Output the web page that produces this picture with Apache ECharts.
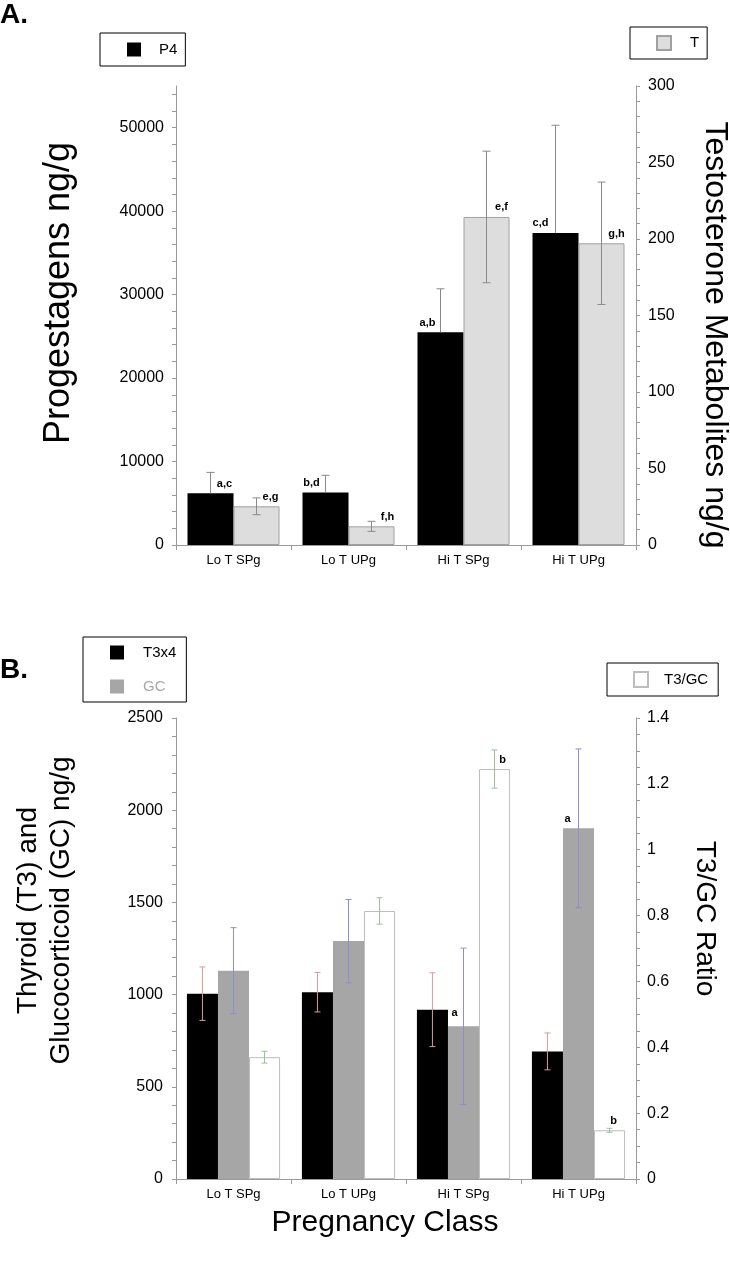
<!DOCTYPE html>
<html><head><meta charset="utf-8">
<script src="https://cdn.jsdelivr.net/npm/echarts@6/dist/echarts.min.js"></script>
<style>html,body{margin:0;padding:0;background:#fff}#c{width:730px;height:1267px}</style>
</head><body><div id="c"></div>
<script>
// ---------- DATA ----------
const categories = ['Lo T SPg', 'Lo T UPg', 'Hi T SPg', 'Hi T UPg'];
// Panel A
const p4 = [6200, 6300, 25500, 37400];
const p4Err = [2500, 2050, 5200, 12900];
const tMet = [25.3, 12.2, 214.4, 197.2];
const tMetErr = [5.5, 3.3, 43, 40];
const p4Labels = ['a,c', 'b,d', 'a,b', 'c,d'];
const tLabels = ['e,g', 'f,h', 'e,f', 'g,h'];
// Panel B
const t3x4 = [1005, 1013, 918, 692];
const t3x4Err = [145, 107, 200, 100];
const gc = [1130, 1290, 828, 1902];
const gcErr = [233, 226, 424, 430];
const ratio = [0.370, 0.814, 1.245, 0.148];
const ratioErr = [0.018, 0.040, 0.058, 0.006];
const gcLabels = ['', '', 'a', 'a'];
const ratioLabels = ['', '', 'b', 'b'];
// Tick values / labels
const aLeftLabels = [0, 10000, 20000, 30000, 40000, 50000];
const aLeftTicks = [0,2000,4000,6000,8000,10000,12000,14000,16000,18000,20000,22000,24000,26000,28000,30000,32000,34000,36000,38000,40000,42000,44000,46000,48000,50000,52000,54000];
const aRightLabels = [0, 50, 100, 150, 200, 250, 300];
const bLeftLabels = [0, 500, 1000, 1500, 2000, 2500];
const bRightLabels = [0, 0.2, 0.4, 0.6, 0.8, 1, 1.2, 1.4];

// ---------- LAYOUT / STYLE ----------
const FONT = 'Liberation Sans, Arial, Helvetica, sans-serif';
const AX = '#9a9a9a';
const CAT_GAP_A = 0.20, CAT_GAP_B = 0.19;

function errRender(idx, count, gap, color, cap, upOnly) {
  return function (params, api) {
    const xi = api.value(0), v = api.value(1), e = api.value(2);
    const band = api.size([1, 0])[0];
    const bw = band * (1 - gap) / count;
    const cx = api.coord([xi, v])[0] + (idx - (count - 1) / 2) * bw;
    const yt = api.coord([xi, v + e])[1];
    const yb = api.coord([xi, upOnly ? v : v - e])[1];
    const st = { stroke: color, lineWidth: 1 };
    const ch = [
      { type: 'line', shape: { x1: cx, y1: yt, x2: cx, y2: yb }, style: st },
      { type: 'line', shape: { x1: cx - cap, y1: yt, x2: cx + cap, y2: yt }, style: st }
    ];
    if (!upOnly) ch.push({ type: 'line', shape: { x1: cx - cap, y1: yb, x2: cx + cap, y2: yb }, style: st });
    return { type: 'group', children: ch };
  };
}
function errData(vals, errs) { return vals.map((v, i) => [i, v, errs[i]]); }
function labelled(vals, labels, dx, dist) {
  return vals.map((v, i) => labels[i] ? { value: v, label: { show: true, formatter: labels[i], offset: [dx[i], 0], distance: dist ? dist[i] : 4 } } : v);
}
function yAxisBase(gridIndex, pos, max, labelVals, tickVals, fmt, margin) {
  return {
    type: 'value', gridIndex: gridIndex, position: pos, min: 0, max: max,
    splitLine: { show: false },
    axisLine: { show: true, lineStyle: { color: AX, width: 1 } },
    axisTick: { show: true, length: 4, lineStyle: { color: AX }, customValues: tickVals },
    axisLabel: { color: '#000', fontSize: 16, fontFamily: FONT, margin: margin, customValues: labelVals, formatter: fmt || (v => String(v)) }
  };
}
function stepTicks(max, step, dec) {
  const out = [];
  const n = Math.round(max / step);
  for (let i = 0; i <= n; i++) out.push(+(i * step).toFixed(dec));
  return out;
}

const xAxisBase = (gridIndex) => ({
  type: 'category', gridIndex: gridIndex, data: categories,
  axisLine: { lineStyle: { color: AX, width: 1 } },
  axisTick: { show: true, length: 5, lineStyle: { color: AX } },
  axisLabel: { color: '#000', fontSize: 13, fontFamily: FONT, margin: 9 }
});

const barLabel = { show: false, position: 'top', distance: 4, color: '#000', fontSize: 11, fontWeight: 'bold', fontFamily: FONT };

const option = {
  animation: false,
  backgroundColor: '#fff',
  textStyle: { fontFamily: FONT },
  graphic: [
    { type: 'text', left: 0, top: 1, style: { text: 'A.', font: 'bold 28px ' + FONT, fill: '#000' } },
    { type: 'text', left: 0, top: 656, style: { text: 'B.', font: 'bold 28px ' + FONT, fill: '#000' } }
  ],
  legend: [
    { data: ['P4'], left: 100, top: 33, orient: 'horizontal', selectedMode: false, icon: 'rect', itemWidth: 14, itemHeight: 14,
      borderColor: '#000', borderWidth: 1, padding: [9, 8, 9, 27], textStyle: { color: '#000', fontSize: 15, fontFamily: FONT, padding: [0, 0, 0, 13] } },
    { data: ['T'], left: 630, top: 27, orient: 'horizontal', selectedMode: false, icon: 'rect', itemWidth: 14, itemHeight: 14,
      borderColor: '#000', borderWidth: 1, padding: [8, 8, 8, 26], textStyle: { color: '#000', fontSize: 15, fontFamily: FONT, padding: [0, 0, 0, 14] } },
    { data: [{ name: 'T3x4' }, { name: 'GC', textStyle: { color: '#a8a8a8' } }], left: 83, top: 637, orient: 'vertical', itemGap: 19, selectedMode: false, icon: 'rect', itemWidth: 14, itemHeight: 14,
      borderColor: '#000', borderWidth: 1, padding: [8, 10, 8, 27], textStyle: { color: '#000', fontSize: 15, fontFamily: FONT, padding: [0, 0, 0, 14] } },
    { data: ['T3/GC'], left: 607, top: 663, orient: 'horizontal', selectedMode: false, icon: 'rect', itemWidth: 14, itemHeight: 15,
      borderColor: '#000', borderWidth: 1, padding: [8, 10, 8, 26], textStyle: { color: '#000', fontSize: 15, fontFamily: FONT, padding: [0, 0, 0, 11] } }
  ],
  grid: [
    { left: 176, top: 86, width: 460, height: 459, outerBoundsMode: 'none', containLabel: false },
    { left: 176, top: 718, width: 460, height: 461, outerBoundsMode: 'none', containLabel: false }
  ],
  xAxis: [
    xAxisBase(0),
    Object.assign(xAxisBase(1), {
      name: 'Pregnancy Class', nameLocation: 'middle', nameGap: 29,
      nameTextStyle: { color: '#000', fontSize: 30, fontFamily: FONT, padding: [0, 42, 0, 0] }
    })
  ],
  yAxis: [
    Object.assign(yAxisBase(0, 'left', 55000, aLeftLabels, aLeftTicks, null, 12), {
      name: 'Progestagens ng/g', nameLocation: 'middle', nameGap: 99, nameRotate: 90,
      nameTextStyle: { color: '#000', fontSize: 36, fontFamily: FONT, padding: [0, 0, 0, 45] }
    }),
    Object.assign(yAxisBase(0, 'right', 300, aRightLabels, stepTicks(300, 10, 0), null, 12), {
      name: 'Testosterone Metabolites ng/g', nameLocation: 'middle', nameGap: 63, nameRotate: -90,
      nameTextStyle: { color: '#000', fontSize: 32, fontFamily: FONT, padding: [0, 0, 0, 39] }
    }),
    Object.assign(yAxisBase(1, 'left', 2500, bLeftLabels, stepTicks(2500, 100, 0), null, 13), {
      name: 'Thyroid (T3) and\nGlucocorticoid (GC) ng/g', nameLocation: 'middle', nameGap: 98, nameRotate: 90,
      nameTextStyle: { color: '#000', fontSize: 28, lineHeight: 33, fontFamily: FONT, padding: [0, 0, 0, 76] }
    }),
    Object.assign(yAxisBase(1, 'right', 1.4, bRightLabels, stepTicks(1.4, 0.05, 2), v => String(+(+v).toFixed(1)), 11), {
      name: 'T3/GC Ratio', nameLocation: 'middle', nameGap: 55, nameRotate: -90,
      nameTextStyle: { color: '#000', fontSize: 28, fontFamily: FONT, padding: [0, 60, 0, 0] }
    })
  ],
  series: [
    { name: 'P4', type: 'bar', xAxisIndex: 0, yAxisIndex: 0, barGap: 0, barCategoryGap: (CAT_GAP_A * 100) + '%',
      itemStyle: { color: '#000' }, label: barLabel, data: labelled(p4, p4Labels, [14, -14, -13, -15]) },
    { name: 'T', type: 'bar', xAxisIndex: 0, yAxisIndex: 1, barGap: 0, barCategoryGap: (CAT_GAP_A * 100) + '%',
      itemStyle: { color: '#dcdddc', borderColor: '#a0a0a0', borderWidth: 1 }, label: barLabel, data: labelled(tMet, tLabels, [14, 16, 15, 15]) },
    { type: 'custom', xAxisIndex: 0, yAxisIndex: 0, z: 5, renderItem: errRender(0, 2, CAT_GAP_A, '#8a8a8a', 4, true),
      encode: { x: 0, y: 1 }, data: errData(p4, p4Err), silent: true },
    { type: 'custom', xAxisIndex: 0, yAxisIndex: 1, z: 5, renderItem: errRender(1, 2, CAT_GAP_A, '#8a8a8a', 4, false),
      encode: { x: 0, y: 1 }, data: errData(tMet, tMetErr), silent: true },

    { name: 'T3x4', type: 'bar', xAxisIndex: 1, yAxisIndex: 2, barGap: 0, barCategoryGap: (CAT_GAP_B * 100) + '%',
      itemStyle: { color: '#000' }, data: t3x4 },
    { name: 'GC', type: 'bar', xAxisIndex: 1, yAxisIndex: 2, barGap: 0, barCategoryGap: (CAT_GAP_B * 100) + '%',
      itemStyle: { color: '#a6a6a6' }, label: barLabel, data: labelled(gc, gcLabels, [0, 0, -9, -11], [0, 0, 8, 4]) },
    { name: 'T3/GC', type: 'bar', xAxisIndex: 1, yAxisIndex: 3, barGap: 0, barCategoryGap: (CAT_GAP_B * 100) + '%',
      itemStyle: { color: '#fff', borderColor: '#bdbdbd', borderWidth: 1 }, label: barLabel, data: labelled(ratio, ratioLabels, [0, 0, 8, 4]) },
    { type: 'custom', xAxisIndex: 1, yAxisIndex: 2, z: 5, renderItem: errRender(0, 3, CAT_GAP_B, '#d99a9a', 3, false),
      encode: { x: 0, y: 1 }, data: errData(t3x4, t3x4Err), silent: true },
    { type: 'custom', xAxisIndex: 1, yAxisIndex: 2, z: 5, renderItem: errRender(1, 3, CAT_GAP_B, '#8e8ed0', 3, false),
      encode: { x: 0, y: 1 }, data: errData(gc, gcErr), silent: true },
    { type: 'custom', xAxisIndex: 1, yAxisIndex: 3, z: 5, renderItem: errRender(2, 3, CAT_GAP_B, '#9cbc9c', 3, false),
      encode: { x: 0, y: 1 }, data: errData(ratio, ratioErr), silent: true }
  ]
};
const chart = echarts.init(document.getElementById('c'), null, { renderer: 'canvas' });
chart.setOption(option);
</script>
</body></html>
